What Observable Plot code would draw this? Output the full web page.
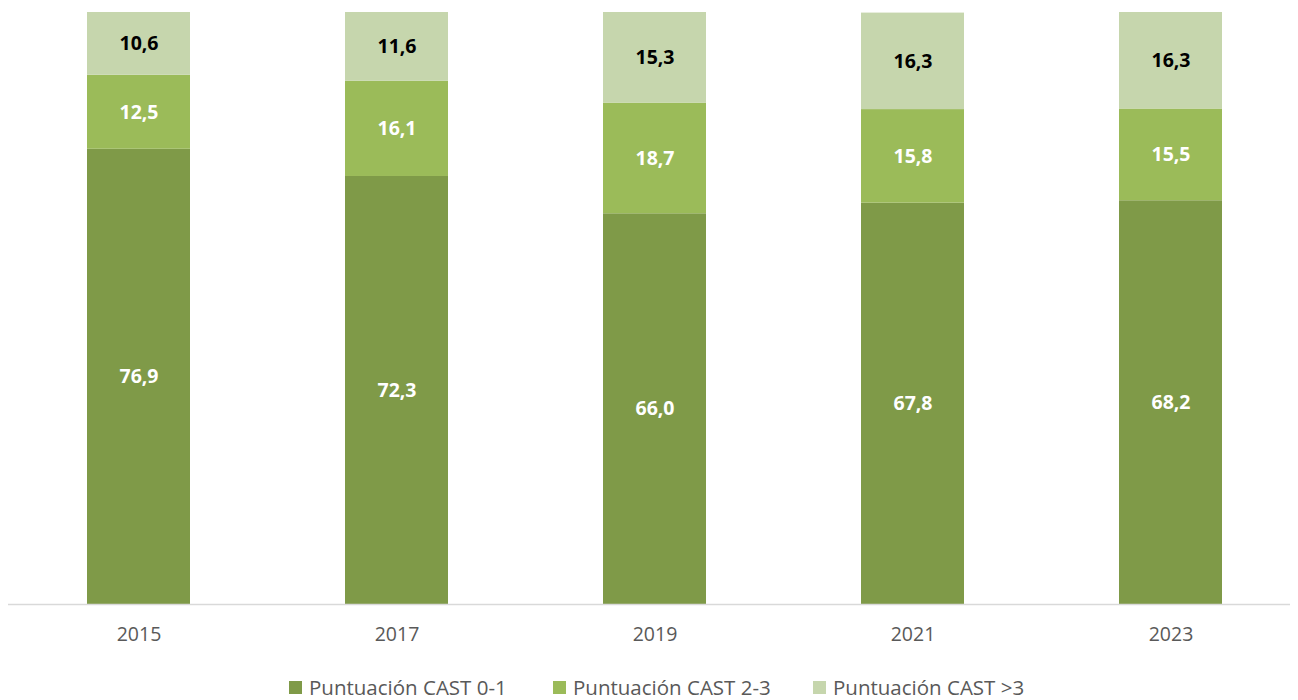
<!DOCTYPE html>
<html>
<head>
<meta charset="utf-8">
<script src="https://cdn.jsdelivr.net/npm/d3@7"></script>
<script src="https://cdn.jsdelivr.net/npm/@observablehq/plot@0.6"></script>
<style>
  body { margin: 0; background: #fff; font-family: "Open Sans", sans-serif; }
  #legend { font-size: 20.5px; color: #595959; line-height: 24px; }
  .item { position: absolute; display: flex; align-items: center; }
  .sw { width: 13px; height: 13px; margin-right: 7px; }
</style>
</head>
<body>
<div id="chart"></div>
<div id="legend"></div>
<script>
const years = ["2015", "2017", "2019", "2021", "2023"];
const seriesNames = ["Puntuación CAST 0-1", "Puntuación CAST 2-3", "Puntuación CAST >3"];
const cast01 = [76.9, 72.3, 66.0, 67.8, 68.2];
const cast23 = [12.5, 16.1, 18.7, 15.8, 15.5];
const cast3 = [10.6, 11.6, 15.3, 16.3, 16.3];
const colors = ["#7f9a48", "#9bbb59", "#c6d6ad"];
const labelColors = ["#ffffff", "#ffffff", "#000000"];

const seriesValues = [cast01, cast23, cast3];
const data = [];
seriesNames.forEach((s, si) => {
  years.forEach((y, yi) => data.push({year: y, series: s, si, value: seriesValues[si][yi]}));
});
const fmt = v => d3.format(".1f")(v).replace(".", ",");

const chart = Plot.plot({
  width: 1298,
  height: 650,
  marginTop: 12,
  marginBottom: 46,
  marginLeft: 8,
  marginRight: 8,
  style: {fontFamily: "Open Sans, sans-serif", background: "#fff"},
  x: {domain: years, range: [8, 1301], paddingInner: 0.6, paddingOuter: 0.3, label: null},
  y: {domain: [0, 100], axis: null},
  color: {domain: seriesNames, range: colors},
  marks: [
    Plot.barY(data, {x: "year", y: "value", fill: "series", order: seriesNames, inset: 0}),
    Plot.text(data, Plot.stackY({x: "year", y: "value", z: "series", order: seriesNames,
      text: d => fmt(d.value), fill: d => labelColors[d.si], fontWeight: "bold", fontSize: 19.5})),
    Plot.ruleY([0], {stroke: "#d9d9d9", strokeWidth: 1.5}),
    Plot.axisX({tickSize: 0, tickPadding: 23, fontSize: 19.5, color: "#595959", label: null})
  ]
});
document.getElementById("chart").appendChild(chart);

const legend = document.getElementById("legend");
const lx = [289, 553, 813];
legend.style.position = "relative";
legend.style.height = "50px";
seriesNames.forEach((s, i) => {
  const it = document.createElement("div");
  it.className = "item";
  it.style.left = lx[i] + "px";
  it.style.top = "25px";
  it.innerHTML = `<span class="sw" style="background:${colors[i]}"></span><span>${s}</span>`;
  legend.appendChild(it);
});
</script>
</body>
</html>
